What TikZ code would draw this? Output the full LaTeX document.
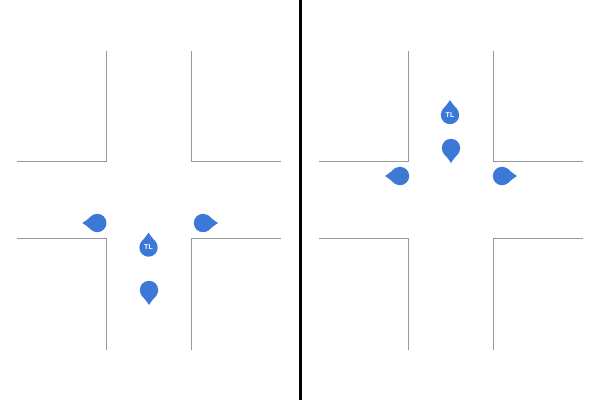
\documentclass[tikz,border=0pt]{standalone}
\usepackage{xcolor}
\usepackage{fontspec}
\setsansfont{Liberation Sans}
\usepackage{tikz}
\definecolor{dropblue}{HTML}{3C78D8}
\definecolor{roadgray}{HTML}{999999}
\tikzset{
  road/.style={color=roadgray,line width=1pt},
  tllabel/.style={color=white,font=\sffamily\bfseries\fontsize{7}{8}\selectfont,inner sep=0pt},
  pics/drop/.style={code={
      \fill[color=dropblue] (0,0) circle (9.2);
      \fill[color=dropblue] (5,7.7) .. controls (8,5.2) and (11,2.4) .. (15,0)
      .. controls (11,-2.4) and (8,-5.2) .. (5,-7.7) -- cycle;
  }},
  pics/crossing/.style={code={
      \draw[road] (106.5,51) -- (106.5,161.5) -- (17,161.5);
      \draw[road] (191.5,51) -- (191.5,161.5) -- (281,161.5);
      \draw[road] (17,238.5) -- (106.5,238.5) -- (106.5,350);
      \draw[road] (281,238.5) -- (191.5,238.5) -- (191.5,350);
  }}
}
\begin{document}
\begin{tikzpicture}[x=1pt,y=-1pt]
      \useasboundingbox (0,0) rectangle (600,400);
      \fill[color=black] (299,0) rectangle (302,400);
      % left crossing
      \pic at (0,0) {crossing};
      \pic[rotate=180] at (97.3,223) {drop};
      \pic at (203,223) {drop};
      \pic[rotate=90] at (148.5,247.5) {drop};
      \pic[rotate=-90] at (149,290) {drop};
      \node[tllabel] (tlleft) at (148.5,247.5) {TL};
      % right crossing
      \pic at (302,0) {crossing};
      \pic[rotate=180] at (400,176) {drop};
      \pic at (502,176) {drop};
      \pic[rotate=90] at (450,115) {drop};
      \pic[rotate=-90] at (451,148) {drop};
      \node[tllabel] (tlright) at (450,115) {TL};
    \end{tikzpicture}
\end{document}
